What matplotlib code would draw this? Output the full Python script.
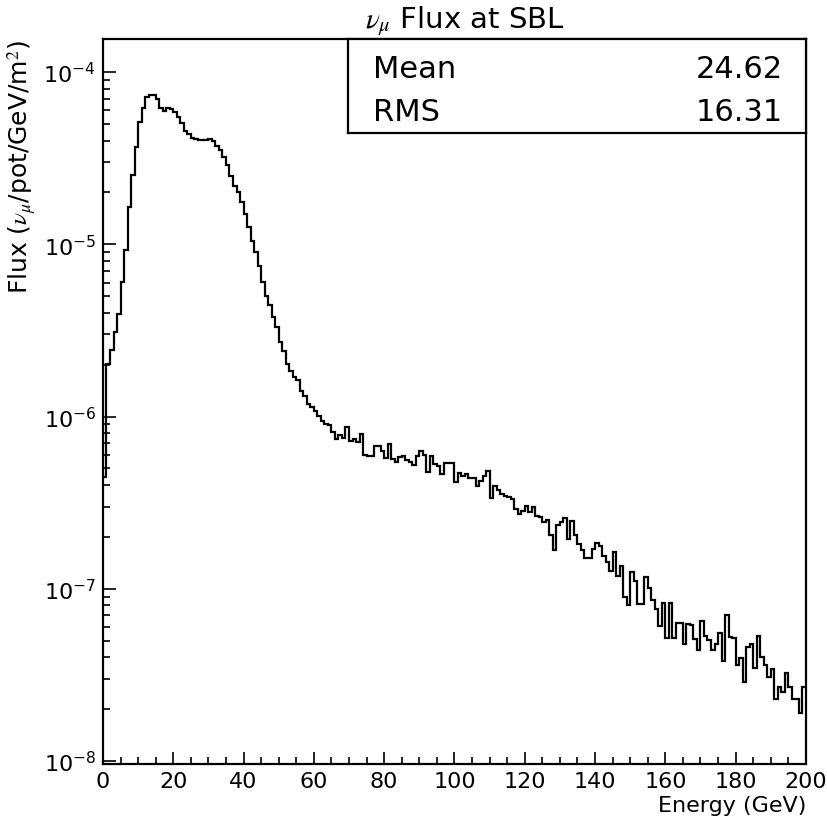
import matplotlib
matplotlib.use("Agg")
import matplotlib.pyplot as plt
import matplotlib.ticker as ticker
import numpy as np

plt.rcParams['font.family'] = ['DejaVu Sans']
plt.rcParams['mathtext.fontset'] = 'stix'

# nu_mu flux per 1 GeV bin, 0-200 GeV
edges = np.arange(0, 201, 1)
flux = [
    4.46e-7, 2.02e-6, 2.45e-6, 3.09e-6, 3.92e-6, 6.02e-6, 9.30e-6, 1.65e-5, 2.53e-5, 3.69e-5,
    5.10e-5, 6.18e-5, 7.13e-5, 7.38e-5, 7.38e-5, 6.97e-5, 6.16e-5, 5.91e-5, 6.16e-5, 6.10e-5,
    5.84e-5, 5.46e-5, 5.06e-5, 4.56e-5, 4.37e-5, 4.12e-5, 4.08e-5, 4.05e-5, 4.05e-5, 4.05e-5,
    4.08e-5, 3.99e-5, 3.74e-5, 3.53e-5, 3.20e-5, 2.89e-5, 2.50e-5, 2.19e-5, 2.00e-5, 1.75e-5,
    1.50e-5, 1.26e-5, 1.05e-5, 8.99e-6, 7.51e-6, 6.02e-6, 5.03e-6, 4.44e-6, 3.77e-6, 3.30e-6,
    2.70e-6, 2.41e-6, 2.02e-6, 1.85e-6, 1.69e-6, 1.62e-6, 1.41e-6, 1.32e-6, 1.18e-6, 1.13e-6,
    1.07e-6, 1.01e-6, 9.47e-7, 9.06e-7, 8.94e-7, 8.11e-7, 7.41e-7, 7.82e-7, 7.48e-7, 8.67e-7,
    7.25e-7, 7.41e-7, 7.15e-7, 7.93e-7, 5.99e-7, 5.88e-7, 5.88e-7, 6.78e-7, 6.72e-7, 6.34e-7,
    5.73e-7, 6.93e-7, 5.67e-7, 5.47e-7, 5.80e-7, 5.88e-7, 5.62e-7, 5.43e-7, 5.24e-7, 5.93e-7,
    6.34e-7, 5.99e-7, 4.75e-7, 5.88e-7, 5.31e-7, 5.17e-7, 4.64e-7, 5.38e-7, 5.38e-7, 5.34e-7,
    4.16e-7, 4.71e-7, 4.54e-7, 4.64e-7, 4.38e-7, 4.38e-7, 3.97e-7, 4.25e-7, 4.50e-7, 4.83e-7,
    3.36e-7, 3.97e-7, 3.76e-7, 3.56e-7, 3.47e-7, 3.43e-7, 3.32e-7, 2.91e-7, 2.72e-7, 2.84e-7,
    3.02e-7, 2.78e-7, 3.00e-7, 2.64e-7, 2.61e-7, 2.45e-7, 2.52e-7, 2.04e-7, 1.67e-7, 2.35e-7,
    2.43e-7, 2.57e-7, 1.95e-7, 2.49e-7, 2.04e-7, 1.82e-7, 1.67e-7, 1.50e-7, 1.50e-7, 1.70e-7,
    1.85e-7, 1.78e-7, 1.56e-7, 1.43e-7, 1.26e-7, 1.63e-7, 1.19e-7, 1.36e-7, 8.97e-8, 8.06e-8,
    1.25e-7, 1.11e-7, 8.17e-8, 8.17e-8, 1.17e-7, 1.01e-7, 8.62e-8, 7.64e-8, 6.09e-8, 8.28e-8,
    5.19e-8, 8.28e-8, 5.19e-8, 6.34e-8, 6.34e-8, 4.79e-8, 6.25e-8, 6.18e-8, 5.12e-8, 4.42e-8,
    6.54e-8, 5.35e-8, 5.01e-8, 4.44e-8, 4.79e-8, 5.55e-8, 3.83e-8, 7.06e-8, 5.24e-8, 5.20e-8,
    3.62e-8, 3.96e-8, 2.87e-8, 4.58e-8, 4.79e-8, 3.46e-8, 5.35e-8, 4.01e-8, 3.62e-8, 3.07e-8,
    3.43e-8, 2.30e-8, 2.69e-8, 2.51e-8, 3.25e-8, 2.69e-8, 2.30e-8, 2.30e-8, 1.90e-8, 2.69e-8,
]
stat_names = ["Mean", "RMS"]
stat_values = ["24.62", "16.31"]

fig = plt.figure(figsize=(8.27, 8.28), dpi=100)
ax = fig.add_axes([0.1245, 0.076, 0.850, 0.8757])

ax.stairs(flux, edges, baseline=None, color="black", linewidth=1.6)

ax.set_yscale("log")
ax.set_xlim(0, 200)
ax.set_ylim(0.96e-8, 1.556e-4)

for s in ax.spines.values():
    s.set_linewidth(1.6)

ax.xaxis.set_major_locator(ticker.MultipleLocator(20))
ax.xaxis.set_minor_locator(ticker.MultipleLocator(5))
ax.yaxis.set_major_locator(ticker.LogLocator(base=10, numticks=20))
ax.yaxis.set_minor_locator(ticker.LogLocator(base=10, subs=np.arange(2, 10), numticks=20))
ax.yaxis.set_minor_formatter(ticker.NullFormatter())
ax.tick_params(which="both", direction="in", top=False, right=False, width=1.2, labelsize=16)
ax.tick_params(which="major", length=9)
ax.tick_params(which="minor", length=5)
ax.tick_params(axis="x", pad=5)
ax.tick_params(axis="y", pad=5)

ax.set_xlabel("Energy (GeV)", loc="right", fontsize=16, labelpad=3)
ax.set_ylabel(r"Flux ($\nu_\mu$/pot/GeV/m$^2$)", loc="top", fontsize=18)
ax.yaxis.set_label_coords(-0.092, 1.0)
fig.text(0.562, 0.975, r"$\nu_\mu$ Flux at SBL", ha="center", va="center", fontsize=21)

# statistics box in the upper right corner
box = ax.inset_axes([0.3483, 0.8708, 0.6517, 0.1292])
box.set_xticks([])
box.set_yticks([])
for s in box.spines.values():
    s.set_linewidth(1.6)
for i, (n, v) in enumerate(zip(stat_names, stat_values)):
    yy = 0.69 - 0.46 * i
    box.text(0.055, yy, n, ha="left", va="center", fontsize=22)
    box.text(0.95, yy, v, ha="right", va="center", fontsize=22)

fig.savefig("out.png", dpi=100)
